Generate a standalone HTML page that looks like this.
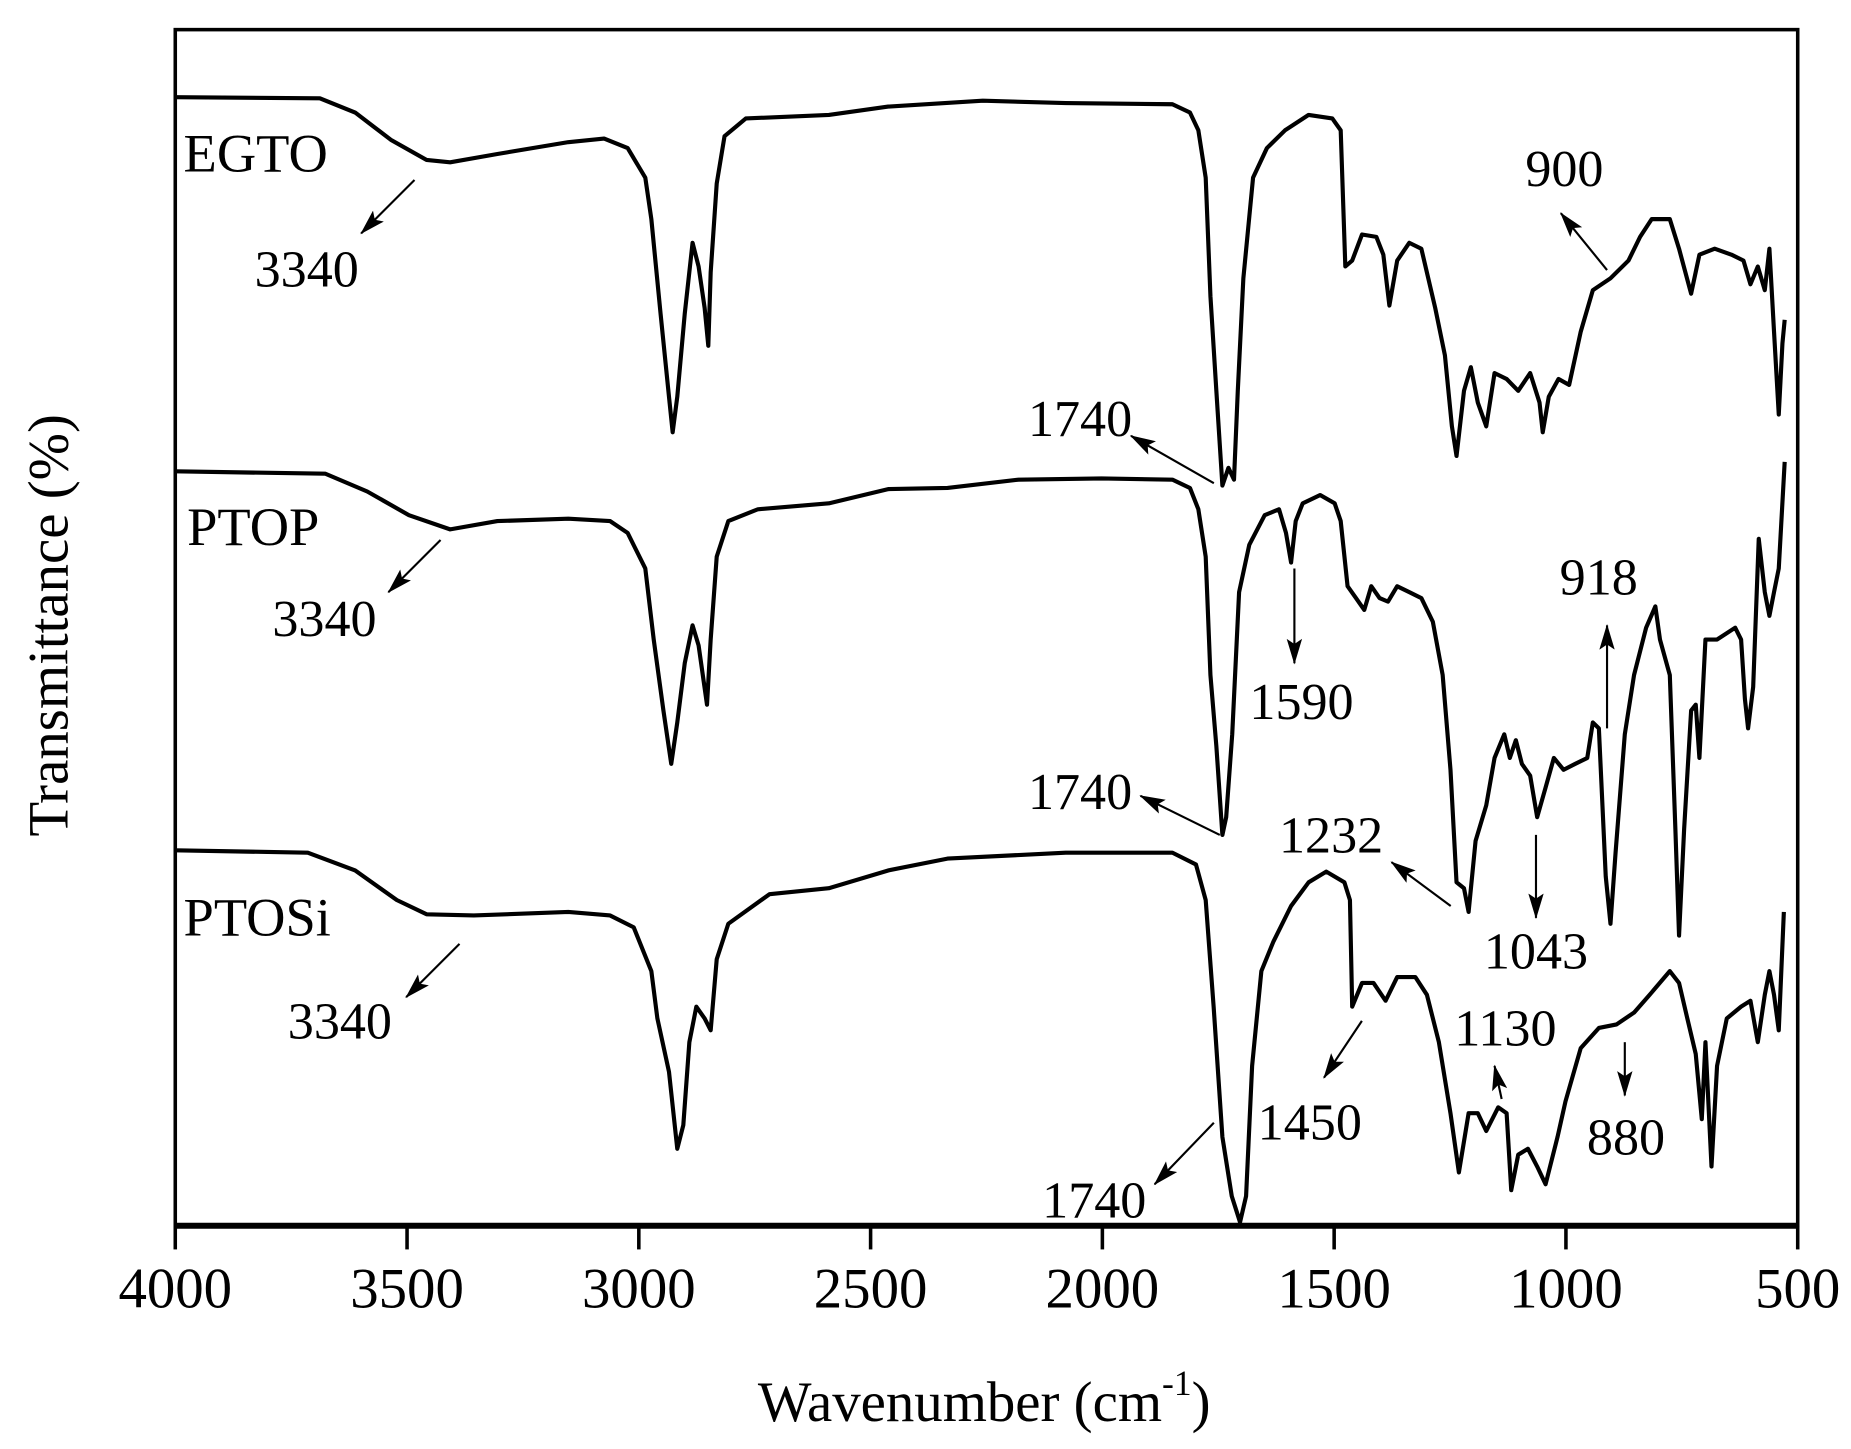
<!DOCTYPE html>
<html><head><meta charset="utf-8"><style>
html,body{margin:0;padding:0;background:#fff}
svg{display:block}
text{font-family:"Liberation Serif",serif;fill:#000}
</style></head><body>
<svg id="chart" width="1851" height="1449" viewBox="0 0 1563 1223.5" xmlns="http://www.w3.org/2000/svg">
<defs><marker id="ah" markerWidth="10" markerHeight="8" refX="9" refY="4" orient="auto" markerUnits="userSpaceOnUse"><path d="M0,0 L26,9 L0,18 L5,9 z" transform="scale(0.38) translate(0,-5)"/></marker>
<marker id="ah2" viewBox="0 0 20 12" markerWidth="22" markerHeight="13" refX="19" refY="6" orient="auto" markerUnits="userSpaceOnUse"><path d="M0,0 L20,6 L0,12 L4,6 z"/></marker></defs>
<rect x="148" y="25" width="1370" height="1010" fill="none" stroke="#000" stroke-width="3"/>
<line x1="148" y1="1035" x2="1518" y2="1035" stroke="#000" stroke-width="5"/>
<g id="ticks"></g>
<g id="series"></g>
<text x="640" y="1200" font-size="48">Wavenumber (cm<tspan font-size="30" dy="-22">-1</tspan><tspan dy="22">)</tspan></text>
<text transform="translate(57,528) rotate(-90)" text-anchor="middle" font-size="48">Transmittance (%)</text>
<text x="155" y="145" font-size="46">EGTO</text>
<text x="158" y="460" font-size="46">PTOP</text>
<text x="155" y="790" font-size="46">PTOSi</text>
<g id="ann" font-size="44"></g>
</svg>
<script>
const wnEGTO=[4000,3688,3612,3535,3458,3407,3305,3152,3075,3024,2986,2973,2953,2935,2927,2917,2901,2884,2871,2858,2850,2845,2832,2815,2769,2590,2462,2258,2079,1849,1811,1793,1777,1767,1754,1741,1728,1716,1708,1696,1675,1645,1606,1555,1504,1486,1476,1461,1440,1409,1394,1381,1364,1338,1312,1282,1261,1246,1236,1220,1205,1190,1172,1154,1128,1103,1077,1057,1050,1037,1016,993,968,942,904,865,840,815,776,756,730,712,679,643,617,602,586,571,561,551,541,533,528];
const tEGTO=[95.3,95.2,94.0,91.7,90.0,89.8,90.5,91.5,91.8,91.0,88.5,85.0,77.0,70.0,67.0,70.0,77.0,83.0,81.0,77.5,74.3,80.5,88.0,92.0,93.5,93.8,94.5,95.0,94.8,94.7,94.0,92.5,88.5,78.5,70.5,62.5,64.0,63.0,70.5,80.0,88.5,91.0,92.5,93.8,93.5,92.5,81.0,81.5,83.7,83.5,82.0,77.7,81.5,83.0,82.5,77.5,73.5,67.5,65.0,70.5,72.5,69.5,67.5,72.0,71.5,70.5,72.0,69.5,67.0,70.0,71.5,71.0,75.5,79.0,80.0,81.5,83.5,85.0,85.0,82.5,78.7,82.0,82.5,82.0,81.5,79.5,81.0,79.0,82.5,75.5,68.5,74.5,76.5];
const wnPTOP=[4000,3676,3586,3496,3407,3305,3152,3062,3024,2986,2968,2947,2930,2917,2901,2884,2871,2853,2845,2832,2807,2743,2590,2462,2334,2181,2002,1849,1811,1793,1777,1767,1754,1741,1733,1720,1705,1683,1650,1619,1604,1593,1583,1568,1530,1499,1486,1471,1453,1435,1420,1402,1384,1364,1338,1312,1287,1266,1249,1236,1220,1210,1195,1172,1154,1133,1121,1108,1095,1077,1062,1044,1026,1005,980,954,942,929,914,904,893,873,853,827,807,797,776,764,756,745,730,720,712,699,674,635,622,614,607,596,584,571,561,551,541,528];
const tPTOP=[63.7,63.5,62.0,60.0,58.8,59.5,59.7,59.5,58.5,55.5,49.5,43.5,39.0,42.5,47.5,50.7,49.0,44.0,49.5,56.5,59.5,60.5,61.0,62.2,62.3,63.0,63.1,63.0,62.3,60.5,56.5,46.5,40.5,33.0,34.5,41.5,53.5,57.5,60.0,60.5,58.5,56.0,59.5,61.0,61.7,61.0,59.5,54.0,53.0,52.0,54.0,53.0,52.7,54.0,53.5,53.0,51.0,46.5,38.5,29.0,28.5,26.5,32.5,35.5,39.5,41.5,39.5,41.0,39.0,38.0,34.5,37.0,39.5,38.5,39.0,39.5,42.5,42.0,29.5,25.5,31.5,41.5,46.5,50.5,52.3,49.5,46.5,33.5,24.5,33.5,43.5,44.0,39.5,49.5,49.5,50.5,49.5,44.5,42.0,45.5,58.0,53.5,51.5,53.5,55.5,64.5];
const wnPTOSi=[4000,3714,3612,3522,3458,3356,3152,3062,3011,2973,2960,2935,2917,2904,2891,2876,2858,2845,2832,2807,2718,2590,2462,2334,2079,1849,1798,1777,1760,1741,1721,1703,1690,1677,1657,1631,1593,1555,1517,1478,1466,1461,1440,1415,1389,1364,1325,1300,1274,1249,1231,1210,1190,1172,1146,1128,1118,1103,1082,1062,1044,1018,1001,968,929,891,853,815,776,756,738,720,707,699,686,674,653,622,602,586,571,561,551,541,530];
const tPTOSi=[31.7,31.5,30.0,27.5,26.3,26.2,26.5,26.2,25.2,21.5,17.5,13.0,6.5,8.5,15.5,18.5,17.5,16.5,22.5,25.5,28.0,28.5,30.0,31.0,31.5,31.5,30.5,27.5,18.5,7.5,2.5,0.3,2.5,13.5,21.5,24.0,27.0,29.0,29.9,29.0,27.5,18.5,20.5,20.5,19.0,21.0,21.0,19.5,15.5,9.5,4.5,9.5,9.5,8.0,10.0,9.5,3.0,6.0,6.5,5.0,3.5,7.5,10.5,15.0,16.7,17.0,18.0,19.7,21.5,20.5,17.5,14.5,9.0,15.5,5.0,13.5,17.5,18.5,19.0,15.5,19.5,21.5,19.5,16.5,26.5];
const xTicks=[4000,3500,3000,2500,2000,1500,1000,500];
const xTickLabels=["4000","3500","3000","2500","2000","1500","1000","500"];

const X=w=>148+(4000-w)*1370/3500;
const Y=v=>1035-v*(1010/101);
const NS="http://www.w3.org/2000/svg";
const tg=document.getElementById('ticks');
xTicks.forEach((t,i)=>{
  const l=document.createElementNS(NS,'line');
  
  
  l.setAttribute('x1',X(t));l.setAttribute('x2',X(t));l.setAttribute('y1',1035);l.setAttribute('y2',1055);
  l.setAttribute('stroke','#000');l.setAttribute('stroke-width','3');
  tg.appendChild(l);
  const tx=document.createElementNS(NS,'text');
  
  
  tx.setAttribute('x',X(t));tx.setAttribute('y',1104);tx.setAttribute('text-anchor','middle');tx.setAttribute('font-size','48');
  tx.textContent=xTickLabels[i];
  tg.appendChild(tx);
});
const sg=document.getElementById('series');
[[wnEGTO,tEGTO,'egto'],[wnPTOP,tPTOP,'ptop'],[wnPTOSi,tPTOSi,'ptosi']].forEach(([w,t,n])=>{
  const p=document.createElementNS(NS,'polyline');
  
  
  p.setAttribute('points',w.map((v,i)=>X(v).toFixed(1)+','+Y(t[i]).toFixed(1)).join(' '));
  p.setAttribute('fill','none');p.setAttribute('stroke','#000');p.setAttribute('stroke-width','3.5');p.setAttribute('stroke-linejoin','round');
  sg.appendChild(p);
});
const anns=[["3340",215,242,350,152,305,197],["3340",230,537,372,456,328,500],["3340",243,877,388,797,343,842],
["1740",868,368,1025,408,955,368],["1740",868,683,1030,705,963,672],["1740",880,1028,1025,948,975,1000],
["900",1288,157,1357,228,1318,180],["1590",1055,607,1093,480,1093,560],["918",1317,502,1357,615,1357,528],
["1232",1080,720,1225,765,1175,728],["1043",1253,818,1297,705,1297,775],["1450",1062,962,1150,862,1118,910],
["1130",1228,883,1268,928,1262,900],["880",1340,975,1372,880,1372,925]];
const ag=document.getElementById('ann');
anns.forEach(a=>{
  const tx=document.createElementNS(NS,'text');
  
  
  tx.setAttribute('x',a[1]);tx.setAttribute('y',a[2]);tx.textContent=a[0];
  ag.appendChild(tx);
  const l=document.createElementNS(NS,'line');
  
  
  l.setAttribute('x1',a[3]);l.setAttribute('y1',a[4]);l.setAttribute('x2',a[5]);l.setAttribute('y2',a[6]);
  l.setAttribute('stroke','#000');l.setAttribute('stroke-width','1.8');l.setAttribute('marker-end','url(#ah2)');
  ag.appendChild(l);
});
</script>
</body></html>
